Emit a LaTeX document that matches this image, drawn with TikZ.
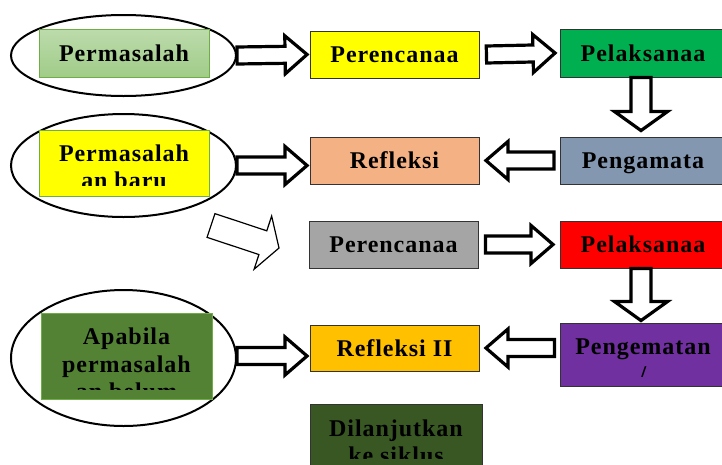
\documentclass[tikz,border=0pt]{standalone}
\usepackage{fontspec}
\setmainfont{Liberation Serif}[LetterSpace=4]
\usetikzlibrary{shapes,arrows,positioning,calc}

\definecolor{hijaumuda}{RGB}{160,204,136}
\definecolor{garishijau}{RGB}{112,173,71}
\definecolor{kuning}{RGB}{255,255,0}
\definecolor{hijau}{RGB}{0,176,80}
\definecolor{oranye}{RGB}{244,177,131}
\definecolor{abubiru}{RGB}{132,151,176}
\definecolor{abu}{RGB}{165,165,165}
\definecolor{merah}{RGB}{255,0,0}
\definecolor{emas}{RGB}{255,192,0}
\definecolor{ungu}{RGB}{112,48,160}
\definecolor{hijautua}{RGB}{84,130,53}
\definecolor{hijaugelap}{RGB}{56,87,35}

% panah blok: [gaya]{lebar batang}{lebar kepala}{panjang kepala}{dari}{ke}
\newcommand{\blokpanah}[6][]{%
  \coordinate (bp-a) at (#5);
  \coordinate (bp-b) at (#6);
  \coordinate (bp-h) at ($(bp-b)!#4!(bp-a)$);
  \draw[#1] ($(bp-a)!#2!90:(bp-b)$) -- ($(bp-h)!#2!90:(bp-b)$) -- ($(bp-h)!#3!90:(bp-b)$)
    -- (bp-b) -- ($(bp-h)!#3!-90:(bp-b)$) -- ($(bp-h)!#2!-90:(bp-b)$) -- ($(bp-a)!#2!-90:(bp-b)$) -- cycle;
}

\begin{document}
\begin{tikzpicture}[x=1pt, y=1pt,
  kotak/.style={draw=black!80, line width=0.9pt, rectangle, minimum width=169pt, minimum height=47pt,
    inner sep=0pt, text height=16pt, text depth=0pt, font=\fontsize{24}{27.5}\selectfont\bfseries},
  lingkar/.style={draw, ellipse, line width=2pt, minimum width=225pt, inner sep=0pt},
  tulisan/.style={anchor=north, align=center, inner sep=0pt, font=\fontsize{24}{27.5}\selectfont\bfseries},
  panah/.style={draw, fill=white, line width=3.2pt, line join=miter}]
\useasboundingbox (0,0) rectangle (722,-464);
\clip (0,0) rectangle (722,-464);

% baris 1
\node[lingkar, minimum height=81pt] (e1) at (123.5,-55.5) {};
\node[kotak, draw=garishijau, top color=hijaumuda!70!white, bottom color=hijaumuda, minimum width=170pt, minimum height=48pt] (masalah) at (124,-53) {Permasalah};
\node[kotak, fill=kuning] (rencana1) at (394.5,-54.5) {Perencanaa};
\node[kotak, fill=hijau, minimum width=166pt, minimum height=48pt] (laksana1) at (643,-53) {Pelaksanaa};

% baris 2
\node[lingkar, minimum height=103pt] (e2) at (123.5,-165.5) {};
\node[kotak, draw=garishijau, fill=kuning, minimum width=170pt, minimum height=66pt] (baru) at (124,-163) {};
\begin{scope}
\clip (baru.north west) rectangle ([yshift=11pt]baru.south east);
\node[tulisan] (baru-teks) at ([yshift=-14.8pt]baru.north) {Permasalah\\an baru};
\end{scope}
\node[kotak, fill=oranye] (refl) at (394.5,-160.5) {Refleksi};
\node[kotak, fill=abubiru, minimum width=166pt] (amat) at (643,-160.5) {Pengamata};

% baris 3
\node[kotak, fill=abu] (rencana2) at (393.5,-244.5) {Perencanaa};
\node[kotak, fill=merah, minimum width=166pt] (laksana2) at (643,-244.5) {Pelaksanaa};

% baris 4
\node[lingkar, minimum height=136pt] (e3) at (123.5,-358) {};
\node[kotak, draw=garishijau, fill=hijautua, minimum width=171pt, minimum height=86pt] (apabila) at (126.5,-356) {};
\begin{scope}
\clip (apabila.north west) rectangle ([yshift=10pt]apabila.south east);
\node[tulisan] (apabila-teks) at ([yshift=-15.5pt]apabila.north) {Apabila\\permasalah\\an belum};
\end{scope}
\node[kotak, fill=emas, minimum height=46pt] (refl2) at (394.5,-348) {Refleksi II};
\node[kotak, fill=ungu, minimum width=166pt, minimum height=63pt] (amat2) at (643,-354.5) {};
\begin{scope}
\clip (amat2.north west) rectangle ([yshift=10pt]amat2.south east);
\node[tulisan] (amat2-teks) at ([yshift=-16.1pt]amat2.north) {Pengematan\\/};
\end{scope}

% baris 5
\node[kotak, fill=hijaugelap, minimum width=172pt, minimum height=70pt] (lanjut) at (396,-439) {};
\begin{scope}
\clip (lanjut.north west) rectangle ([yshift=16pt]lanjut.south east);
\node[tulisan] (lanjut-teks) at ([yshift=-15.8pt]lanjut.north) {Dilanjutkan\\ke siklus};
\end{scope}

% panah
\blokpanah[panah]{8.5pt}{19pt}{22pt}{e1.east}{[xshift=-2.5pt]rencana1.west}
\blokpanah[panah]{8.5pt}{19pt}{22pt}{[xshift=7pt]rencana1.east}{[xshift=-4.5pt]laksana1.west}
\blokpanah[panah]{10pt}{26.5pt}{19pt}{[xshift=-2pt]laksana1.south}{[xshift=-2pt,yshift=6pt]amat.north}
\blokpanah[panah]{8.5pt}{19pt}{22pt}{[xshift=-5.5pt]amat.west}{[xshift=6.5pt]refl.east}
\blokpanah[panah]{8.5pt}{19pt}{22pt}{e2.east}{[xshift=-2.5pt]refl.west |- e2.east}

\coordinate (miring-a) at (211,-225.5);
\coordinate (miring-b) at (279,-248);
\blokpanah[draw, fill=white, line width=1.2pt]{12.5pt}{28pt}{17pt}{miring-a}{miring-b}

\blokpanah[panah]{8.5pt}{19pt}{22pt}{[xshift=7pt]rencana2.east}{[xshift=-6.5pt]laksana2.west}
\blokpanah[panah]{10pt}{26.5pt}{19pt}{[xshift=-2pt]laksana2.south}{[xshift=-2pt,yshift=2pt]amat2.north}
\blokpanah[panah]{8.5pt}{19pt}{22pt}{e3.east |- apabila}{[xshift=-2.5pt]refl2.west |- apabila}
\blokpanah[panah]{8.5pt}{19pt}{22pt}{[xshift=-5pt]amat2.west |- refl2}{[xshift=6.5pt]refl2.east}
\end{tikzpicture}
\end{document}
